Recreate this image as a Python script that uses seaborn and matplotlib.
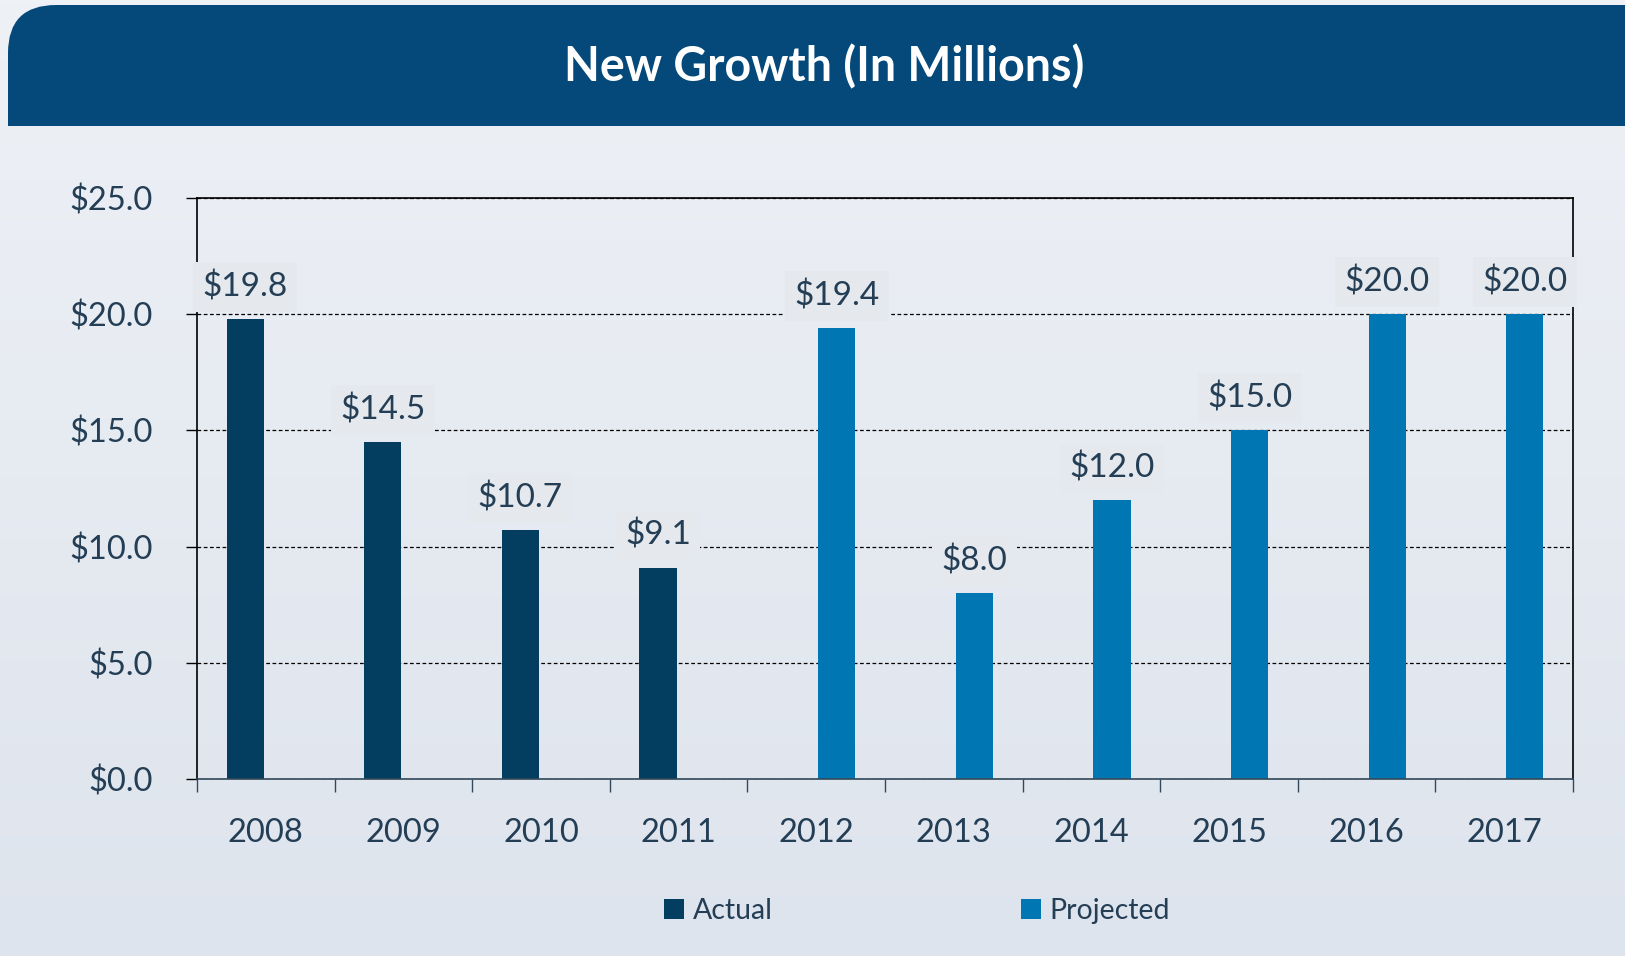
import numpy as np
import pandas as pd
import matplotlib
matplotlib.use("Agg")
import matplotlib.pyplot as plt
import seaborn as sns
from matplotlib.path import Path
from matplotlib.patches import PathPatch, Rectangle
from matplotlib.ticker import FixedLocator, FuncFormatter

# ---- data -------------------------------------------------------------
years = ["2008", "2009", "2010", "2011", "2012",
         "2013", "2014", "2015", "2016", "2017"]
actual_years = ["2008", "2009", "2010", "2011"]
actual_values = [19.8, 14.5, 10.7, 9.1]
projected_years = ["2012", "2013", "2014", "2015", "2016", "2017"]
projected_values = [19.4, 8.0, 12.0, 15.0, 20.0, 20.0]
series_names = ["Actual", "Projected"]
y_ticks = [0, 5, 10, 15, 20, 25]
title = "New Growth (In Millions)"

df = pd.concat([
    pd.DataFrame({"year": actual_years, "value": actual_values, "status": "Actual"}),
    pd.DataFrame({"year": projected_years, "value": projected_values, "status": "Projected"}),
], ignore_index=True)

# ---- style ------------------------------------------------------------
sns.set_theme(style="white")
plt.rcParams["font.family"] = ["Lato", "DejaVu Sans"]

W, H = 1625, 956
text_color = "#233e55"
colors = {"Actual": "#033d60", "Projected": "#0077b3"}

fig = plt.figure(figsize=(W / 100, H / 100), dpi=100)

# soft panel background with a gentle vertical gradient
bg = fig.add_axes([0, 0, 1, 1], zorder=-10)
top_c = np.array(matplotlib.colors.to_rgb("#eef1f6"))
bot_c = np.array(matplotlib.colors.to_rgb("#dee4ed"))
t = np.linspace(0, 1, 256)[:, None]
grad = top_c[None, None, :] * (1 - t[..., None]) + bot_c[None, None, :] * t[..., None]
grad = np.repeat(grad, 2, axis=1)
bg.imshow(grad, aspect="auto", extent=[0, 1, 0, 1], origin="upper",
          transform=fig.transFigure)
bg.set_xlim(0, 1)
bg.set_ylim(0, 1)
bg.axis("off")

# title banner with rounded top-left corner
x0, x1 = 8, W + 5
yt, yb = H - 5, H - 126
r = 48
verts = [(x0, yb), (x0, yt - r), (x0, yt), (x0 + r, yt), (x1, yt), (x1, yb), (x0, yb)]
codes = [Path.MOVETO, Path.LINETO, Path.CURVE3, Path.CURVE3,
         Path.LINETO, Path.LINETO, Path.CLOSEPOLY]
verts = [(vx / W, vy / H) for vx, vy in verts]
bg.add_patch(PathPatch(Path(verts, codes), facecolor="#04497a", edgecolor="none",
                       transform=fig.transFigure))
fig.text(824 / W, 1 - 67 / H, title, color="white", fontsize=33.5,
         fontweight="bold", ha="center", va="center")

# ---- chart ------------------------------------------------------------
ax = fig.add_axes([197 / W, 1 - 779 / H, (1573 - 197) / W, (779 - 198) / H])
ax.patch.set_alpha(0)

sns.barplot(data=df, x="year", y="value", hue="status", order=years,
            hue_order=series_names, palette=colors, width=0.6, gap=0.1,
            dodge=True, saturation=1, ax=ax, legend=False,
            edgecolor="none", linewidth=0)

for cont in ax.containers:
    ax.bar_label(cont, fmt="${:.1f}", padding=12, fontsize=24, color=text_color,
                 bbox=dict(boxstyle="square,pad=0.28", fc="#e5e8ed", ec="none"),
                 zorder=5)

ax.set_xlim(-0.5, len(years) - 0.5)
ax.set_ylim(0, 25)
ax.set_xlabel("")
ax.set_ylabel("")

ax.yaxis.set_major_locator(FixedLocator(y_ticks))
ax.yaxis.set_major_formatter(FuncFormatter(lambda v, p: f"${v:.1f}"))
ax.xaxis.set_minor_locator(FixedLocator(np.arange(-0.5, len(years), 1.0)))

ax.tick_params(axis="y", which="major", direction="out", length=8, width=1,
               color="black", pad=24, labelsize=23.5, labelcolor=text_color, left=True)
ax.tick_params(axis="x", which="major", length=0, pad=28, labelsize=23.5,
               labelcolor=text_color)
ax.tick_params(axis="x", which="minor", direction="out", length=9, width=1,
               color="#33485a", bottom=True)

ax.yaxis.grid(True, linestyle=(0, (3, 2)), color="black", linewidth=0.9)
ax.xaxis.grid(False)
ax.set_axisbelow(True)

for side, sp in ax.spines.items():
    sp.set_visible(True)
    sp.set_color("black")
    sp.set_linewidth(1.2)
ax.spines["bottom"].set_color("#33485a")

# legend
handles = [Rectangle((0, 0), 1, 1, facecolor=colors[n], edgecolor="none")
           for n in series_names]
fig.legend(handles, series_names, loc="center", ncol=2,
           bbox_to_anchor=(917 / W, 1 - 911 / H), frameon=False,
           fontsize=20.5, labelcolor=text_color, handlelength=0.7,
           handleheight=0.7, handletextpad=0.3, columnspacing=8.7)

fig.savefig("out.png", dpi=100)
